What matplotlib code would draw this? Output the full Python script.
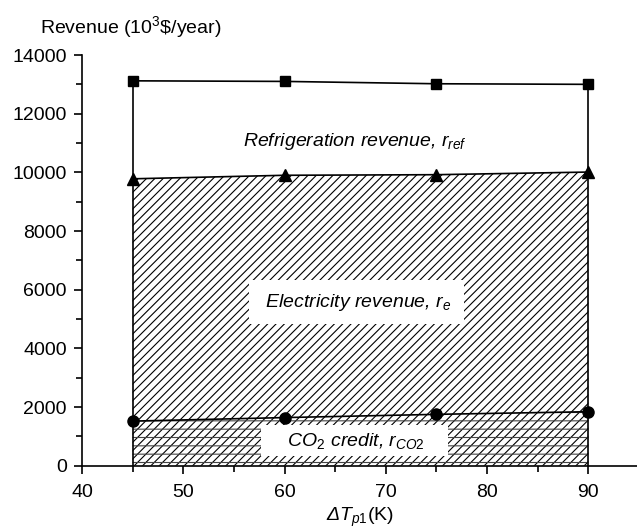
import numpy as np
import matplotlib
matplotlib.use('Agg')
import matplotlib.pyplot as plt
from matplotlib.ticker import MultipleLocator

plt.rcParams['font.family'] = ['Liberation Sans', 'DejaVu Sans']
plt.rcParams['mathtext.fontset'] = 'custom'
plt.rcParams['mathtext.rm'] = 'Liberation Sans'
plt.rcParams['mathtext.it'] = 'Liberation Sans:italic'
plt.rcParams['mathtext.sf'] = 'Liberation Sans:italic'
plt.rcParams['mathtext.bf'] = 'Liberation Sans:bold'
plt.rcParams['hatch.linewidth'] = 0.8

# температурный перепад, K
dT = [45, 60, 75, 90]
# выручка, 10^3 $/год
r_total = [13120, 13100, 13020, 13000]   # полная (с холодом)
r_elec = [9780, 9900, 9920, 10010]       # электроэнергия + CO2
r_co2 = [1520, 1640, 1750, 1840]         # квоты CO2

fig = plt.figure(figsize=(6.37, 5.31), dpi=100)
ax = fig.add_axes([0.1287, 0.123, 0.8713, 0.7734])

# области
ax.fill_between(dT, 0, r_elec, facecolor='white', edgecolor='black',
                hatch='////', linewidth=0, zorder=1)
ax.fill_between(dT, 0, r_co2, facecolor='none', edgecolor='#444444',
                hatch='--', linewidth=0, zorder=1)

# кривые
ax.plot(dT, r_total, 'k-', marker='s', markersize=7, lw=1.2, zorder=4)
ax.plot(dT, r_elec, 'k-', marker='^', markersize=9, lw=1.2, zorder=4)
ax.plot(dT, r_co2, 'k-', marker='o', markersize=8, lw=1.2, zorder=4)
ax.plot([dT[0], dT[0]], [0, r_total[0]], 'k-', lw=1.2, zorder=3)
ax.plot([dT[-1], dT[-1]], [0, r_total[-1]], 'k-', lw=1.2, zorder=3)

# подписи областей
ax.text(67.0, 11040, r'Refrigeration revenue, $r_{ref}$', style='italic',
        fontsize=14, ha='center', va='center', zorder=5)
ax.text(67.1, 5580, r' Electricity revenue, $r_{e}$ ', style='italic',
        fontsize=14, ha='center', va='center', zorder=5,
        bbox=dict(facecolor='white', edgecolor='none', pad=8))
ax.text(66.9, 850, r'    $CO_{2}$ credit, $r_{CO2}$    ', style='italic',
        fontsize=14, ha='center', va='center', zorder=5,
        bbox=dict(facecolor='white', edgecolor='none', pad=4))

ax.set_xlim(40, 94.8)
ax.set_ylim(0, 14000)
ax.xaxis.set_major_locator(MultipleLocator(10))
ax.xaxis.set_minor_locator(MultipleLocator(5))
ax.yaxis.set_major_locator(MultipleLocator(2000))
ax.yaxis.set_minor_locator(MultipleLocator(1000))
ax.tick_params(which='major', direction='out', length=6, width=1.2, labelsize=14)
ax.tick_params(axis='x', which='major', pad=7)
ax.tick_params(axis='y', which='major', pad=5)
ax.tick_params(which='minor', direction='out', length=4, width=1.2)

ax.spines['top'].set_visible(False)
ax.spines['right'].set_visible(False)
ax.spines['left'].set_linewidth(1.2)
ax.spines['bottom'].set_linewidth(1.2)

ax.set_xlabel(r'$\mathsf{\Delta}T_{p1}$(K)', fontsize=14, labelpad=4)
fig.text(40 / 637, 1 - 27 / 531, r'Revenue (10$^{3}$\$/year)', fontsize=14,
         ha='left', va='center')

plt.savefig('out.png', dpi=100)
